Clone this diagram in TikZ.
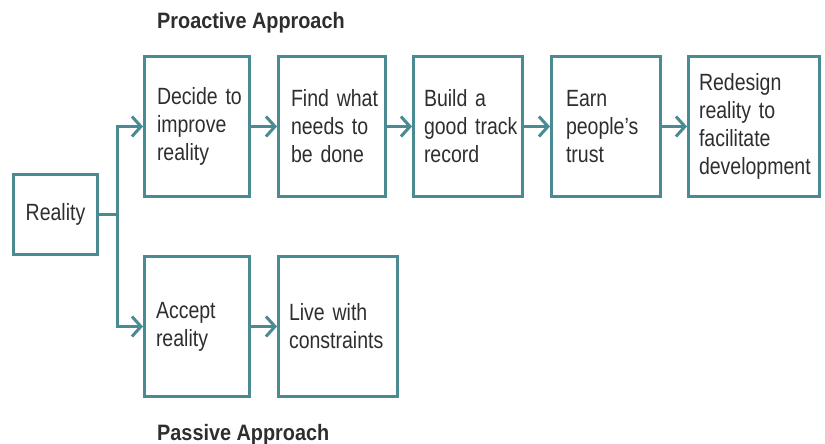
\documentclass[tikz,border=0pt]{standalone}
\usepackage{fontspec}
\setmainfont[FakeStretch=0.83]{Liberation Sans}
\newfontfamily\titlefont[FakeStretch=0.89]{Liberation Sans}
\usetikzlibrary{arrows.meta}
\definecolor{teal1}{HTML}{4A8A92}
\definecolor{txt}{HTML}{2E2E2E}
\tikzset{
  box/.style={draw=teal1, line width=3pt, minimum height=140pt, inner xsep=0pt, inner ysep=0pt,
    align=left, text=txt, font=\fontsize{23.5}{27.9}\selectfont},
  lpad/.style={execute at begin node={\leftskip=#1\relax}},
  conn/.style={draw=teal1, line width=3pt},
  arr/.style={conn, -{Straight Barb[length=9pt,width=20pt]}},
  title/.style={anchor=base west, inner sep=0pt, text=txt, font=\fontsize{22.3}{27.5}\selectfont\titlefont\bfseries}
}
\begin{document}
\begin{tikzpicture}[x=1pt,y=-1pt]
\useasboundingbox (0,0) rectangle (825,444);
\node[box, minimum height=80pt, minimum width=84pt, align=center] (reality) at (55.5,214.5) {Reality};
\node[box, text width=105pt, lpad=12.5pt] (decide) at (197,126.5) {Decide to\\improve\\reality};
\node[box, text width=107pt, lpad=12.5pt] (find) at (332,126.5) {Find what\\needs to\\be done};
\node[box, text width=109pt, lpad=10.5pt] (build) at (468,126.5) {Build a\\good track\\record};
\node[box, text width=109pt, lpad=14.5pt] (earn) at (606,126.5) {Earn\\people’s\\trust};
\node[box, text width=131pt, lpad=10.5pt] (redesign) at (754,126.5) {Redesign\\reality to\\facilitate\\development};
\node[box, text width=105pt, lpad=11.5pt] (accept) at (197,326.5) {Accept\\reality};
\node[box, text width=119pt, lpad=10.5pt] (live) at (338,326.5) {Live with\\constraints};
\node[title] (pro) at (157,29) {Proactive Approach};
\node[title] (pas) at (157,440) {Passive Approach};
\draw[conn] (reality.east) -- ++(18,0) coordinate (j);
\draw[arr] (j) |- (decide.west);
\draw[arr] (j) |- (accept.west);
\draw[arr] (decide) -- (find);
\draw[arr] (find) -- (build);
\draw[arr] (build) -- (earn);
\draw[arr] (earn) -- (redesign);
\draw[arr] (accept) -- (live);
\end{tikzpicture}
\end{document}
